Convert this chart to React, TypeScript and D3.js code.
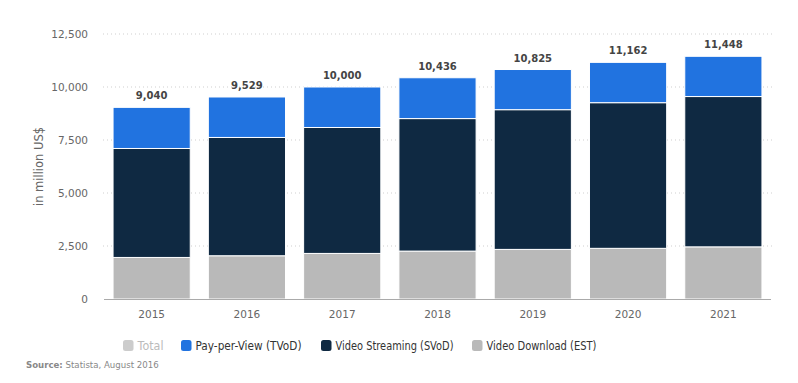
import React from "react";
import * as d3 from "d3";

const years = ["2015", "2016", "2017", "2018", "2019", "2020", "2021"];
const estValues = [1960, 2040, 2150, 2260, 2340, 2390, 2460];
const svodValues = [5140, 5580, 5940, 6250, 6590, 6870, 7090];
const tvodValues = [1940, 1909, 1910, 1926, 1895, 1902, 1898];
const totals = [9040, 9529, 10000, 10436, 10825, 11162, 11448];
const yTicks = [0, 2500, 5000, 7500, 10000, 12500];

const seriesKeys = ["est", "svod", "tvod"];
const seriesColors: Record<string, string> = { est: "#b9b9b9", svod: "#0f2942", tvod: "#2173e0" };
const legendItems = [
  { label: "Total", color: "#cccccc", text: "#bbbbbb" },
  { label: "Pay-per-View (TVoD)", color: "#2173e0", text: "#333333" },
  { label: "Video Streaming (SVoD)", color: "#0f2942", text: "#333333" },
  { label: "Video Download (EST)", color: "#b9b9b9", text: "#333333" },
];

const W = 798;
const H = 383;
const FONT = "'DejaVu Sans', sans-serif";

export default function App() {
  const rows = years.map((y, i) => ({ year: y, est: estValues[i], svod: svodValues[i], tvod: tvodValues[i] }));
  const stack = d3.stack<any>().keys(seriesKeys)(rows);
  const x = d3.scaleBand<string>().domain(years).range([104, 771]).paddingInner(0.19).paddingOuter(0.095);
  const y = d3.scaleLinear().domain([0, 12500]).range([299, 34]);
  const fmt = d3.format(",");

  const legendX = [123, 181, 321, 472];
  const legendW = [26, 106, 118, 110];

  return (
    <svg width={W} height={H} style={{ position: "absolute", left: 0, top: 0, background: "#fff" }}>
      {yTicks.filter((t) => t > 0).map((t) => (
        <line key={t} x1={103} x2={775} y1={y(t)} y2={y(t)} stroke="#cfcfcf" strokeWidth={1} strokeDasharray="1,3" />
      ))}
      {yTicks.map((t) => (
        <text key={t} x={88} y={y(t)} dy="0.35em" textAnchor="end" fontFamily={FONT} fontSize={10.5} fill="#666">
          {fmt(t)}
        </text>
      ))}
      <text transform={`translate(39,${y(6250)}) rotate(-90)`} textAnchor="middle" dy="0.35em" fontFamily={FONT} fontSize={11.5} fill="#666">
        in million US$
      </text>
      {stack.map((s) => (
        <g key={s.key} fill={seriesColors[s.key]}>
          {s.map((d, i) => (
            <rect key={i} x={x(years[i])} width={x.bandwidth()} y={y(d[1])} height={y(d[0]) - y(d[1])} stroke="#fff" strokeWidth={1} />
          ))}
        </g>
      ))}
      <line x1={104} x2={771} y1={299.5} y2={299.5} stroke="#aaa" strokeWidth={1} />
      {years.map((yr, i) => (
        <g key={yr}>
          <text x={(x(yr) as number) + x.bandwidth() / 2} y={y(totals[i]) - 8} textAnchor="middle" fontFamily={FONT} fontWeight="bold" fontSize={10} fill="#444">
            {fmt(totals[i])}
          </text>
          <text x={(x(yr) as number) + x.bandwidth() / 2} y={314} dy="0.35em" textAnchor="middle" fontFamily={FONT} fontSize={10.5} fill="#666">
            {yr}
          </text>
        </g>
      ))}
      {legendItems.map((it, i) => (
        <g key={it.label} transform={`translate(${legendX[i]},345.5)`}>
          <rect x={0} y={-5.5} width={10.5} height={11} rx={2.5} fill={it.color} />
          <text x={14.5} y={0} dy="0.35em" fontFamily={FONT} fontSize={11.5} fill={it.text} textLength={legendW[i]} lengthAdjust="spacingAndGlyphs">
            {it.label}
          </text>
        </g>
      ))}
      <text x={26} y={367.5} fontFamily={FONT} fontSize={8.6} fill="#888">
        <tspan fontWeight="bold">Source:</tspan> Statista, August 2016
      </text>
    </svg>
  );
}
